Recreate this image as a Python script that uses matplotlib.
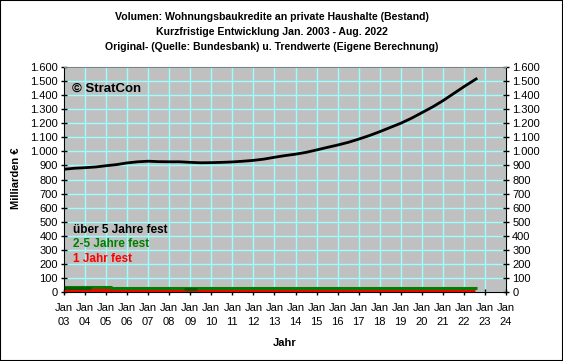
import matplotlib.pyplot as plt
from matplotlib.patches import Rectangle

plt.rcParams['font.family'] = ['Liberation Sans', 'DejaVu Sans']

# Bestand in Mrd. EUR
years_long = [2003.0, 2003.5, 2004.0, 2004.5, 2005.0, 2005.5, 2006.0, 2006.5, 2007.0,
              2007.5, 2008.0, 2008.5, 2009.0, 2009.5, 2010.0, 2010.5, 2011.0, 2011.5,
              2012.0, 2012.5, 2013.0, 2013.5, 2014.0, 2014.5, 2015.0, 2015.5, 2016.0,
              2016.5, 2017.0, 2017.5, 2018.0, 2018.5, 2019.0, 2019.5, 2020.0, 2020.5,
              2021.0, 2021.5, 2022.0, 2022.58]
over5 = [873, 880, 884, 889, 898, 906, 918, 926, 930,
         927, 926, 926, 922, 919, 920, 922, 925, 930,
         936, 945, 958, 970, 980, 993, 1010, 1028, 1045,
         1064, 1087, 1112, 1140, 1170, 1200, 1235, 1275, 1315,
         1360, 1410, 1460, 1515]

years_mid = [2003.0, 2005.25, 2022.6]
two_to_five = [33, 27, 27]
years_mid_trend = [2003.0, 2004.3]
two_to_five_trend = [30, 30]
years_mid_trend2 = [2008.7, 2009.3]
two_to_five_trend2 = [24, 24]

years_short = [2003.0, 2022.55]
one_year = [12, 12]

tick_years = list(range(2003, 2025))
tick_labels = [f'Jan\n{y % 100:02d}' for y in tick_years]
y_ticks = list(range(0, 1700, 100))
y_labels = [f'{v:,}'.replace(',', '.') for v in y_ticks]

title = ('Volumen: Wohnungsbaukredite an private Haushalte (Bestand)\n'
         'Kurzfristige Entwicklung Jan. 2003 - Aug. 2022\n'
         'Original- (Quelle: Bundesbank) u. Trendwerte (Eigene Berechnung)')

fig = plt.figure(figsize=(5.63, 3.61), dpi=100)
ax = fig.add_axes([64 / 563, 1 - 292 / 361, 442 / 563, 225 / 361])
ax.set_facecolor('#C0C0C0')

ax.plot(years_short, one_year, color='#FF0000', lw=2.2, solid_capstyle='butt')
ax.plot(years_mid, two_to_five, color='#008000', lw=2.2, drawstyle='steps-post',
        solid_capstyle='butt')
ax.plot(years_mid_trend, two_to_five_trend, color='#006000', lw=2.2, solid_capstyle='butt')
ax.plot(years_mid_trend2, two_to_five_trend2, color='#006000', lw=2.2, solid_capstyle='butt')
ax.plot(years_long, over5, color='black', lw=2.0)

ax.set_xlim(2003, 2024)
ax.set_ylim(0, 1600)
ax.set_xticks(tick_years)
ax.set_xticklabels(tick_labels, fontsize=8, linespacing=1.5)
ax.set_yticks(y_ticks)
ax.set_yticklabels(y_labels, fontsize=8)
ax.tick_params(axis='y', direction='inout', length=5, width=1, pad=2,
               right=True, labelright=True)
ax.tick_params(axis='x', direction='inout', length=5, width=1, pad=5.5)
ax.grid(True, color='#99FFFF', lw=1)
ax.set_axisbelow(True)
for s in ['left', 'right', 'bottom']:
    ax.spines[s].set_color('black')
ax.spines['top'].set_color('#808080')

ax.set_xlabel('Jahr', fontsize=8, fontweight='bold', labelpad=8)
fig.text(16 / 563, 1 - 178 / 361, 'Milliarden €', rotation=90, fontsize=8,
         fontweight='bold', ha='center', va='center')
fig.text(272 / 563, 1 - 32 / 361, title, fontsize=7.6, fontweight='bold',
         ha='center', va='center', linespacing=1.6)

ax.text(0.018, 0.905, '© StratCon', transform=ax.transAxes, fontsize=9.5,
        fontweight='bold', va='center')
ax.text(0.02, 0.275, 'über 5 Jahre fest', transform=ax.transAxes, fontsize=8.5,
        fontweight='bold', va='center', color='black')
ax.text(0.02, 0.215, '2-5 Jahre fest', transform=ax.transAxes, fontsize=8.5,
        fontweight='bold', va='center', color='#008000')
ax.text(0.02, 0.145, '1 Jahr fest', transform=ax.transAxes, fontsize=8.5,
        fontweight='bold', va='center', color='#FF0000')

fig.patches.append(Rectangle((0, 0), 1, 1, transform=fig.transFigure, fill=False,
                             edgecolor='black', lw=1.5))

fig.savefig('out.png', dpi=100)
